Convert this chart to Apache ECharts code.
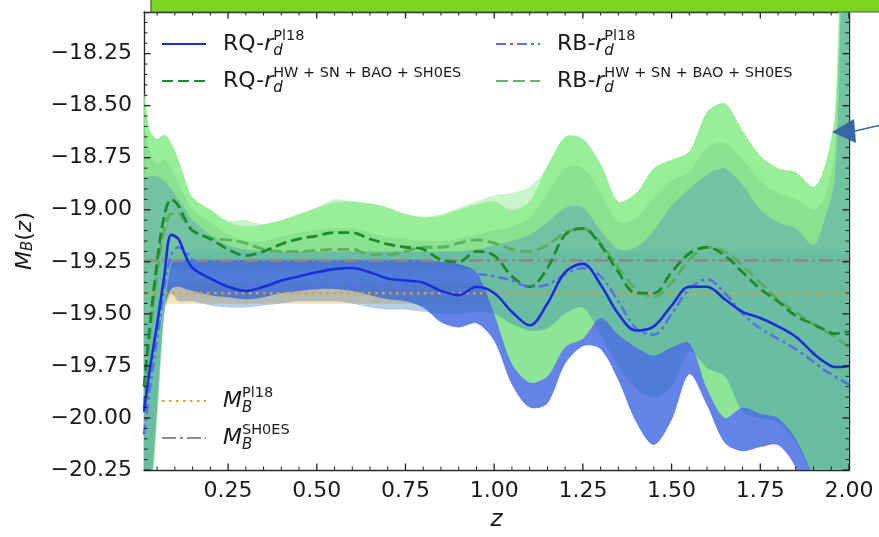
<!DOCTYPE html>
<html><head><meta charset="utf-8">
<script src="https://cdn.jsdelivr.net/npm/echarts@6/dist/echarts.min.js"></script>
<style>html,body{margin:0;padding:0;background:#fff}#c{width:879px;height:537px}</style>
</head><body><div id="c"></div>
<script>
// ---------------- data ----------------
const Z = [0.013,0.03,0.05,0.07,0.09,0.11,0.13,0.15,
  0.20,0.25,0.30,0.35,0.40,0.45,0.50,0.55,0.60,0.65,0.70,0.75,0.80,0.85,0.90,0.95,1.00,
  1.05,1.10,1.15,1.20,1.25,1.30,1.35,1.40,1.45,1.50,1.55,1.60,1.65,1.70,1.75,1.80,1.85,1.90,
  1.93,1.96,1.98,2.00];

// lines
const rqPl18 = [-19.97,-19.76,-19.55,-19.32,-19.12,-19.14,-19.22,-19.28,
  -19.33,-19.37,-19.39,-19.37,-19.34,-19.32,-19.30,-19.285,-19.28,-19.30,-19.33,-19.34,-19.35,-19.39,-19.41,-19.37,-19.40,
  -19.49,-19.555,-19.45,-19.30,-19.26,-19.36,-19.50,-19.58,-19.56,-19.46,-19.37,-19.37,-19.43,-19.49,-19.52,-19.56,-19.61,-19.69,
  -19.73,-19.755,-19.755,-19.75];
const rbPl18 = [-20.08,-19.85,-19.62,-19.38,-19.22,-19.18,-19.20,-19.24,
  -19.29,-19.31,-19.35,-19.38,-19.385,-19.38,-19.375,-19.37,-19.37,-19.37,-19.365,-19.355,-19.345,-19.335,-19.32,-19.31,-19.32,
  -19.34,-19.37,-19.36,-19.31,-19.28,-19.32,-19.44,-19.57,-19.60,-19.50,-19.38,-19.335,-19.40,-19.50,-19.57,-19.62,-19.67,-19.73,
  -19.77,-19.80,-19.82,-19.84];
const rqHW = [-19.85,-19.55,-19.25,-19.03,-18.95,-18.98,-19.05,-19.10,
  -19.14,-19.19,-19.22,-19.20,-19.165,-19.14,-19.125,-19.11,-19.11,-19.14,-19.165,-19.18,-19.19,-19.24,-19.25,-19.20,-19.22,
  -19.32,-19.37,-19.28,-19.12,-19.09,-19.17,-19.30,-19.40,-19.40,-19.30,-19.21,-19.18,-19.22,-19.30,-19.38,-19.44,-19.51,-19.55,
  -19.575,-19.595,-19.59,-19.585];
const rbHW = [-19.95,-19.60,-19.30,-19.10,-19.02,-19.02,-19.06,-19.10,
  -19.135,-19.145,-19.16,-19.19,-19.20,-19.20,-19.195,-19.19,-19.19,-19.215,-19.215,-19.20,-19.18,-19.18,-19.16,-19.145,-19.16,
  -19.19,-19.20,-19.17,-19.11,-19.09,-19.16,-19.28,-19.38,-19.42,-19.35,-19.24,-19.18,-19.20,-19.27,-19.35,-19.43,-19.49,-19.55,
  -19.58,-19.61,-19.635,-19.66];

// confidence regions (upper / lower)
const greenUp = [-18.45,-18.62,-18.66,-18.64,-18.68,-18.76,-18.86,-18.94,
  -19.00,-19.06,-19.08,-19.07,-19.05,-19.02,-18.99,-18.965,-18.96,-18.97,-18.99,-19.02,-19.035,-19.03,-19.00,-18.975,-18.96,
  -19.00,-18.96,-18.79,-18.65,-18.66,-18.78,-18.96,-18.92,-18.80,-18.76,-18.72,-18.53,-18.49,-18.62,-18.74,-18.80,-18.82,-18.89,
  -18.80,-18.55,-17.6,-17.3];
const greenLightUp = [-18.45,-18.62,-18.66,-18.64,-18.68,-18.76,-18.86,-18.94,
  -19.00,-19.05,-19.05,-19.07,-19.05,-19.02,-18.99,-18.95,-18.96,-18.97,-18.99,-19.02,-19.035,-19.02,-18.99,-18.96,-18.93,
  -18.92,-18.89,-18.79,-18.65,-18.66,-18.78,-18.96,-18.92,-18.80,-18.76,-18.72,-18.53,-18.49,-18.62,-18.74,-18.80,-18.82,-18.89,
  -18.80,-18.55,-17.6,-17.3];
const greenLo = [-20.6,-20.45,-20.0,-19.5,-19.26,-19.24,-19.24,-19.24,
  -19.24,-19.24,-19.24,-19.24,-19.24,-19.24,-19.24,-19.24,-19.24,-19.24,-19.24,-19.24,-19.24,-19.25,-19.26,-19.30,-19.50,
  -19.74,-19.83,-19.80,-19.66,-19.62,-19.52,-19.60,-19.66,-19.70,-19.66,-19.64,-19.86,-20.00,-19.95,-19.98,-20.00,-20.10,-20.30,
  -20.6,-20.6,-20.6,-20.6];
const greenMidUp = [-18.60,-18.72,-18.78,-18.76,-18.80,-18.87,-18.94,-19.00,
  -19.06,-19.12,-19.15,-19.15,-19.13,-19.11,-19.10,-19.09,-19.09,-19.11,-19.13,-19.14,-19.15,-19.15,-19.14,-19.12,-19.10,
  -19.08,-19.04,-18.92,-18.80,-18.80,-18.92,-19.06,-19.04,-18.94,-18.86,-18.82,-18.70,-18.68,-18.76,-18.86,-18.92,-18.95,-19.00,
  -18.95,-18.70,-17.85,-17.4];
const rqBandUp = [-18.85,-18.84,-18.84,-18.86,-18.90,-18.95,-19.00,-19.05,
  -19.12,-19.17,-19.19,-19.20,-19.20,-19.20,-19.20,-19.20,-19.20,-19.20,-19.20,-19.20,-19.20,-19.20,-19.20,-19.19,-19.17,
  -19.15,-19.12,-19.06,-18.99,-18.99,-19.10,-19.19,-19.18,-19.10,-18.98,-18.90,-18.83,-18.80,-18.88,-19.00,-19.06,-19.09,-19.17,
  -19.05,-18.85,-17.9,-17.5];
const rqBandLo = [-20.6,-20.40,-19.95,-19.50,-19.40,-19.44,-19.44,-19.44,
  -19.46,-19.47,-19.47,-19.46,-19.45,-19.44,-19.44,-19.44,-19.45,-19.47,-19.48,-19.48,-19.49,-19.50,-19.50,-19.49,-19.50,
  -19.55,-19.58,-19.57,-19.50,-19.47,-19.60,-19.75,-19.86,-19.90,-19.85,-19.68,-19.76,-19.80,-19.97,-20.00,-20.02,-20.12,-20.30,
  -20.6,-20.6,-20.6,-20.6];
const rbBandUp = [-19.6,-19.5,-19.3,-19.2,-19.2,-19.2,-19.2,-19.2,
  -19.2,-19.2,-19.2,-19.2,-19.2,-19.2,-19.2,-19.2,-19.2,-19.2,-19.2,-19.2,-19.2,-19.2,-19.2,-19.2,-19.2,
  -19.2,-19.2,-19.2,-19.2,-19.2,-19.2,-19.2,-19.2,-19.2,-19.2,-19.2,-19.2,-19.2,-19.2,-19.2,-19.2,-19.2,-19.2,
  -19.2,-19.2,-19.2,-19.2];
const rbBandLo = [-21.0,-20.4,-19.95,-19.47,-19.38,-19.37,-19.38,-19.39,
  -19.41,-19.42,-19.43,-19.42,-19.40,-19.39,-19.38,-19.38,-19.39,-19.41,-19.43,-19.44,-19.47,-19.54,-19.565,-19.545,-19.63,
  -19.84,-19.95,-19.93,-19.74,-19.655,-19.67,-19.82,-20.02,-20.13,-20.01,-19.79,-19.94,-20.12,-20.16,-20.14,-20.13,-20.24,-20.5,
  -20.7,-20.8,-20.8,-20.8];

// reference values
const MB_PL18 = -19.401, MB_PL18_ERR = 0.05;
const MB_SH0ES = -19.244, MB_SH0ES_ERR = 0.043;

// axes
const X_MIN = 0.013, X_MAX = 2.0, Y_MIN = -20.25, Y_MAX = -18.05;
const xTicks = [0.25,0.50,0.75,1.00,1.25,1.50,1.75,2.00];
const xMinorTicks = [0.05,0.10,0.15,0.20,0.30,0.35,0.40,0.45,0.55,0.60,0.65,0.70,0.80,0.85,0.90,0.95,
  1.05,1.10,1.15,1.20,1.30,1.35,1.40,1.45,1.55,1.60,1.65,1.70,1.80,1.85,1.90,1.95];
const yTicks = [-20.25,-20.00,-19.75,-19.50,-19.25,-19.00,-18.75,-18.50,-18.25];
const yMinorTicks = [-20.20,-20.15,-20.10,-20.05,-19.95,-19.90,-19.85,-19.80,-19.70,-19.65,-19.60,-19.55,
  -19.45,-19.40,-19.35,-19.30,-19.20,-19.15,-19.10,-19.05,-18.95,-18.90,-18.85,-18.80,-18.70,-18.65,-18.60,-18.55,
  -18.45,-18.40,-18.35,-18.30,-18.20,-18.15,-18.10];

// ---------------- chart ----------------
const F = 'DejaVu Sans';
const TXT = '#1a1a1a';
const chart = echarts.init(document.getElementById('c'), null, {renderer: 'canvas'});

function band(name, lo, hi, color, z) {
  return {
    type: 'custom', name: name, silent: true, z: z,
    coordinateSystem: 'cartesian2d', xAxisIndex: 0, yAxisIndex: 0,
    data: Z.map((x, i) => [x, lo[i], hi[i]]),
    encode: {x: 0, y: [1, 2]},
    renderItem: function (params, api) {
      if (params.dataIndex !== 0) return null;
      const top = [], bot = [];
      for (let i = 0; i < Z.length; i++) {
        top.push(api.coord([Z[i], hi[i]]));
        bot.push(api.coord([Z[i], lo[i]]));
      }
      const cs = params.coordSys;
      return {
        type: 'polygon',
        shape: {points: top.concat(bot.reverse()), smooth: 0.3},
        style: {fill: color},
        clipPath: {type: 'rect', shape: {x: cs.x, y: cs.y, width: cs.width, height: cs.height}}
      };
    }
  };
}
function line(name, arr, color, width, type, z) {
  return {
    type: 'line', name: name, data: Z.map((x, i) => [x, arr[i]]),
    smooth: 0.35, symbol: 'none', z: z, silent: true,
    lineStyle: {color: color, width: width, type: type, cap: 'butt'},
    itemStyle: {color: color}
  };
}
const fmtY = v => (v < 0 ? '\u2212' : '') + Math.abs(v).toFixed(2);
const fmtX = v => v.toFixed(2);

const rich = {
  pad: {width: 12, fontSize: 22, lineHeight: 30},
  n: {fontFamily: F, fontSize: 22, color: TXT, lineHeight: 30},
  i: {fontFamily: F, fontSize: 22, fontStyle: 'italic', color: TXT, lineHeight: 30},
  sub: {fontFamily: F, fontSize: 15, fontStyle: 'italic', color: TXT, lineHeight: 15, verticalAlign: 'bottom', width: 0},
  sup: {fontFamily: F, fontSize: 14.5, color: TXT, lineHeight: 14, verticalAlign: 'top'}
};
const labels = {
  'RQ-rd Pl18': '{pad| }{n|RQ-}{i|r}{sub|d}{sup|Pl18}',
  'RQ-rd HW+SN+BAO+SH0ES': '{pad| }{n|RQ-}{i|r}{sub|d}{sup|HW + SN + BAO + SH0ES}',
  'RB-rd Pl18': '{pad| }{n|RB-}{i|r}{sub|d}{sup|Pl18}',
  'RB-rd HW+SN+BAO+SH0ES': '{pad| }{n|RB-}{i|r}{sub|d}{sup|HW + SN + BAO + SH0ES}',
  'MB Pl18': '{pad| }{i|M}{sub|B}{sup|Pl18}',
  'MB SH0ES': '{pad| }{i|M}{sub|B}{sup|SH0ES}'
};
function legend(data, left, top) {
  return {
    data: data, left: left, top: top, orient: 'vertical', itemGap: 7, padding: 0,
    itemWidth: 44, itemHeight: 14, selectedMode: false,
    itemStyle: {opacity: 0},
    formatter: n => labels[n],
    textStyle: {rich: rich, color: TXT}
  };
}

const baseX = {type: 'value', min: X_MIN, max: X_MAX, gridIndex: 0, splitLine: {show: false}, axisTick: {show: false}};
const baseY = {type: 'value', min: Y_MIN, max: Y_MAX, gridIndex: 0, splitLine: {show: false}, axisTick: {show: false}};
const frame = {show: true, onZero: false, lineStyle: {color: '#2a2a2a', width: 1.4}};

const decor = [
  {type: 'rect', z: 100, shape: {x: 151, y: -3, width: 740, height: 15},
    style: {fill: '#7ed321', stroke: '#3d5a6e', lineWidth: 1.2}},
  {type: 'line', z: 100, shape: {x1: 855, y1: 131, x2: 881, y2: 125},
    style: {stroke: '#3a66a8', lineWidth: 1.5}},
  {type: 'polygon', z: 100, shape: {points: [[832, 132], [854, 119], [856, 143]]},
    style: {fill: '#3766a6'}}
];

const option = {
  animation: false,
  backgroundColor: '#ffffff',
  grid: {left: 144, right: 30, top: 12, bottom: 66, containLabel: false},
  xAxis: [
    Object.assign({}, baseX, {position: 'bottom', axisLine: frame,
      name: 'z', nameLocation: 'middle', nameGap: 39,
      nameTextStyle: {fontFamily: F, fontSize: 23, fontStyle: 'italic', color: TXT},
      axisLabel: {show: true, margin: 10, fontFamily: F, fontSize: 22, color: TXT, formatter: fmtX, customValues: xTicks}}),
    Object.assign({}, baseX, {position: 'top', axisLine: frame, axisLabel: {show: false}})
  ],
  yAxis: [
    Object.assign({}, baseY, {position: 'left', axisLine: frame,
      name: '{i|M}{s|B}{n|(}{i|z}{n|)}', nameLocation: 'middle', nameGap: 108,
      nameTextStyle: {rich: {
        i: {fontFamily: F, fontSize: 22, fontStyle: 'italic', color: TXT},
        n: {fontFamily: F, fontSize: 22, color: TXT},
        s: {fontFamily: F, fontSize: 15, fontStyle: 'italic', color: TXT, verticalAlign: 'bottom', lineHeight: 14}
      }},
      axisLabel: {show: true, margin: 12, fontFamily: F, fontSize: 22, color: TXT, formatter: fmtY, customValues: yTicks}}),
    Object.assign({}, baseY, {position: 'right', axisLine: frame, axisLabel: {show: false}})
  ],
  legend: [
    legend(['RQ-rd Pl18', 'RQ-rd HW+SN+BAO+SH0ES'], 161, 29),
    legend(['RB-rd Pl18', 'RB-rd HW+SN+BAO+SH0ES'], 495, 29),
    legend(['MB Pl18', 'MB SH0ES'], 161, 386)
  ],
  series: [
    band('RB Pl18 region', rbBandLo, rbBandUp, 'rgba(65,105,225,0.82)', 1),
    band('RB HW region', greenLo, greenLightUp, 'rgba(150,235,150,0.5)', 1),
    band('RQ HW region', greenLo, greenUp, 'rgba(144,236,144,0.85)', 1),
    band('HW inner region', rqBandUp, greenMidUp, 'rgba(80,180,100,0.2)', 1),
    band('RQ Pl18 region', rqBandLo, rqBandUp, 'rgba(40,110,185,0.33)', 1),
    {
      type: 'line', name: 'MB Pl18', z: 3, symbol: 'none', silent: true,
      data: [[X_MIN, MB_PL18], [X_MAX, MB_PL18]],
      lineStyle: {color: '#d6a23c', width: 2.6, type: [2.5, 4.5]}, itemStyle: {color: '#d6a23c'},
      markArea: {silent: true, itemStyle: {color: 'rgba(245,185,70,0.42)'},
        data: [[{yAxis: MB_PL18 - MB_PL18_ERR}, {yAxis: MB_PL18 + MB_PL18_ERR}]]}
    },
    {
      type: 'line', name: 'MB SH0ES', z: 3, symbol: 'none', silent: true,
      data: [[X_MIN, MB_SH0ES], [X_MAX, MB_SH0ES]],
      lineStyle: {color: '#8a8a8a', width: 2.6, type: [14, 4, 3, 4]}, itemStyle: {color: '#8a8a8a'},
      markArea: {silent: true, itemStyle: {color: 'rgba(120,120,120,0.35)'},
        data: [[{yAxis: MB_SH0ES - MB_SH0ES_ERR}, {yAxis: MB_SH0ES + MB_SH0ES_ERR}]]}
    },
    line('RB-rd HW+SN+BAO+SH0ES', rbHW, 'rgba(90,170,90,0.9)', 2.8, [12, 5], 4),
    line('RQ-rd HW+SN+BAO+SH0ES', rqHW, '#1e8a2a', 2.8, [11, 5], 5),
    line('RB-rd Pl18', rbPl18, '#5673e6', 2.6, [10, 4, 3, 4], 5),
    line('RQ-rd Pl18', rqPl18, '#1a2fdc', 2.6, 'solid', 6)
  ],
  graphic: {elements: decor}
};
chart.setOption(option);

// inward ticks on all four sides, positioned through the axes' own scales
const p0 = chart.convertToPixel({gridIndex: 0}, [X_MIN, Y_MIN]);
const p1 = chart.convertToPixel({gridIndex: 0}, [X_MAX, Y_MAX]);
const gL = p0[0], gB = p0[1], gR = p1[0], gT = p1[1];
const tickEls = [];
function seg(x1, y1, x2, y2, w) {
  return {type: 'line', z: 90, silent: true, shape: {x1: x1, y1: y1, x2: x2, y2: y2},
    style: {stroke: '#1e1e1e', lineWidth: w}};
}
function xTick(v, len, w) {
  const px = chart.convertToPixel({xAxisIndex: 0}, v);
  tickEls.push(seg(px, gB, px, gB - len, w), seg(px, gT, px, gT + len, w));
}
function yTick(v, len, w) {
  const py = chart.convertToPixel({yAxisIndex: 0}, v);
  tickEls.push(seg(gL, py, gL + len, py, w), seg(gR, py, gR - len, py, w));
}
xTicks.forEach(v => xTick(v, 6.5, 1.3));
xMinorTicks.forEach(v => xTick(v, 3.5, 1));
yTicks.forEach(v => yTick(v, 6.5, 1.3));
yMinorTicks.forEach(v => yTick(v, 3.5, 1));
chart.setOption({graphic: {elements: decor.concat(tickEls)}});
</script>
</body></html>
